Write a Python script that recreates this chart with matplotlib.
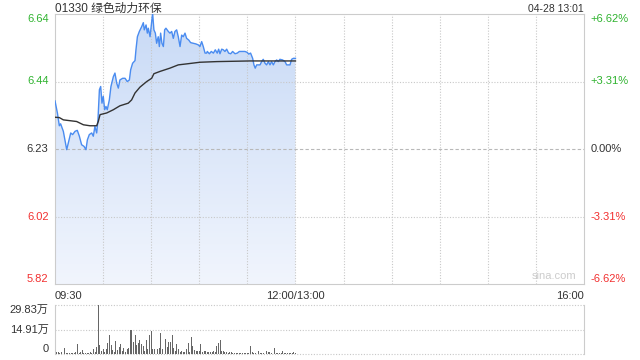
import matplotlib
matplotlib.use("Agg")
import matplotlib.pyplot as plt
import numpy as np
from matplotlib.colors import LinearSegmentedColormap
from matplotlib.patches import Polygon

plt.rcParams['font.family'] = ['Liberation Sans', 'Noto Sans CJK SC', 'DejaVu Sans']

title = "01330 绿色动力环保"
stamp = "04-28 13:01"
prev_close = 6.23
pct_range = 6.62

price_min = [0, 1.5, 2.7, 3.5, 5.2, 6.2, 7.3, 8.3, 9.8, 11.0, 12.5, 13.9, 15.2, 16.6, 18.1, 19.3,
             20.2, 21.4, 22.9, 23.9, 24.9, 26.0, 26.8, 27.7, 28.5, 29.3, 30.1, 31.0, 31.8, 32.6,
             33.9, 34.9, 36.4, 37.4, 38.5, 39.5, 40.5, 42.2, 43.7, 45.1, 46.4, 47.2, 48.4, 49.9,
             50.5, 51.4, 52.6, 54.1, 55.1, 55.7, 56.8, 57.6, 58.2, 59.3, 60.3, 60.9, 61.7, 62.6,
             63.4, 64.4, 65.1, 65.9, 66.7, 67.6, 68.4, 69.2, 70.7, 71.7, 72.8, 73.8, 74.8, 75.9,
             76.9, 78.0, 79.0, 80.0, 81.1, 82.1, 83.4, 84.6, 86.3, 87.9, 89.4, 90.4, 91.5, 92.5,
             93.6, 94.6, 95.0, 96.3, 97.5, 98.8, 100.0, 101.2, 102.1, 102.9, 104.0, 105.0, 106.0,
             107.1, 108.3, 109.6, 110.8, 112.3, 113.7, 115.0, 116.4, 118.5, 120.0, 120.8, 122.0,
             123.3, 124.1, 124.9, 125.8, 127.9, 128.9, 129.9, 131.0, 132.0, 133.1, 134.1, 135.1,
             136.2, 137.2, 138.3, 139.3, 140.3, 142.0, 143.5, 144.5, 145.7, 146.6, 147.6, 148.7, 150.0]
price = [6.377, 6.340, 6.301, 6.307, 6.284, 6.258, 6.228, 6.248, 6.279, 6.274, 6.284, 6.287, 6.269,
         6.243, 6.238, 6.228, 6.258, 6.274, 6.279, 6.269, 6.299, 6.279, 6.319, 6.411, 6.421, 6.370,
         6.391, 6.350, 6.360, 6.350, 6.380, 6.421, 6.451, 6.462, 6.431, 6.416, 6.441, 6.446, 6.446,
         6.436, 6.441, 6.472, 6.492, 6.500, 6.533, 6.573, 6.589, 6.604, 6.616, 6.594, 6.609, 6.584,
         6.599, 6.573, 6.619, 6.645, 6.594, 6.584, 6.553, 6.573, 6.543, 6.584, 6.553, 6.543, 6.594,
         6.599, 6.589, 6.584, 6.589, 6.568, 6.589, 6.594, 6.573, 6.543, 6.578, 6.573, 6.584, 6.568,
         6.563, 6.555, 6.553, 6.551, 6.548, 6.543, 6.558, 6.543, 6.523, 6.523, 6.528, 6.521, 6.528,
         6.523, 6.533, 6.523, 6.535, 6.521, 6.535, 6.533, 6.528, 6.535, 6.523, 6.521, 6.528, 6.521,
         6.523, 6.528, 6.528, 6.528, 6.525, 6.520, 6.523, 6.507, 6.487, 6.477, 6.487, 6.487, 6.497,
         6.504, 6.492, 6.487, 6.497, 6.487, 6.497, 6.487, 6.497, 6.502, 6.497, 6.504, 6.502, 6.497,
         6.487, 6.487, 6.487, 6.504, 6.507, 6.507]

avg_min = [0, 2.7, 5.2, 13.5, 15.6, 17.7, 21.8, 26.0, 27.0, 28.1, 32.2, 36.4, 40.5, 45.7, 47.8,
           49.9, 53.0, 57.2, 60.3, 61.7, 65.5, 71.7, 76.9, 82.1, 90.4, 100.8, 121.6, 150.0]
avg_price = [6.327, 6.326, 6.319, 6.314, 6.309, 6.304, 6.301, 6.301, 6.314, 6.335, 6.340, 6.350,
             6.362, 6.370, 6.380, 6.401, 6.419, 6.436, 6.446, 6.460, 6.467, 6.477, 6.487, 6.490,
             6.495, 6.497, 6.499, 6.499]

volume = [21.5, 1.0, 1.0, 0.6, 1.4, 0.6, 3.6, 0.6, 0.4, 0.6, 0.6, 0.4, 0.6, 1.0, 6.0, 0.6, 1.0, 2.4,
          0.6, 0.4, 0.6, 0.6, 1.0, 0.4, 3.0, 1.0, 4.0, 29.83, 5.4, 2.0, 3.0, 1.4, 3.0, 6.6, 11.5,
          5.4, 2.4, 1.4, 8.0, 2.6, 4.0, 6.0, 2.0, 3.6, 1.0, 3.0, 3.6, 14.5, 14.9, 7.4, 11.5, 5.4,
          7.0, 8.6, 6.0, 5.0, 2.0, 8.6, 3.0, 11.5, 13.9, 3.0, 3.0, 3.6, 3.0, 3.6, 12.5, 3.0, 5.4,
          9.0, 4.0, 7.4, 7.4, 11.5, 3.4, 2.0, 6.0, 3.0, 1.4, 1.6, 1.0, 1.4, 3.0, 7.0, 1.0, 10.4,
          4.6, 2.4, 1.6, 2.0, 1.6, 6.0, 1.4, 1.6, 2.0, 1.0, 1.4, 1.4, 1.0, 1.6, 1.4, 4.6, 6.6,
          8.4, 1.6, 1.8, 1.0, 1.4, 0.8, 1.0, 1.4, 0.8, 0.8, 0.6, 0.6, 0.6, 0.6, 0.6, 0.4, 0.6,
          0.6, 0.6, 4.6, 1.4, 0.4, 0.6, 0.4, 1.6, 0.6, 0.6, 0.4, 0.6, 1.6, 1.0, 1.0, 0.6, 0.4,
          3.4, 0.6, 0.6, 0.6, 0.4, 1.6, 0.6, 0.6, 0.4, 0.6, 0.6, 0.4, 1.2, 0.6]
vol_max = 29.83

time_labels = ["09:30", "12:00/13:00", "16:00"]
total_minutes = 330
break_minute = 150

GREEN = "#2fb32f"
RED = "#f23030"
GRID = "#c8c8c8"

fig = plt.figure(figsize=(6.4, 3.6), dpi=100)
ax = fig.add_axes([55/640, 76/360, 529/640, 270/360])
axv = fig.add_axes([55/640, 6/360, 529/640, 49/360])

ymin = prev_close * (1 - pct_range/100)
ymax = prev_close * (1 + pct_range/100)
ax.set_xlim(0, total_minutes)
ax.set_ylim(ymin, ymax)

# gradient fill under price
pm = np.array(price_min)
pp = np.array(price)
verts = np.column_stack([np.r_[pm[0], pm, pm[-1]], np.r_[ymin, pp, ymin]])
poly = Polygon(verts, closed=True, facecolor='none', edgecolor='none')
ax.add_patch(poly)
cmap = LinearSegmentedColormap.from_list("g", ["#f1f5fd", "#c8daf6"])
grad = np.linspace(0, 1, 256).reshape(-1, 1)
im = ax.imshow(grad, cmap=cmap, aspect='auto', origin='lower',
               extent=[pm[0], pm[-1], ymin, pp.max()], zorder=1)
im.set_clip_path(poly)

# grids
for m in range(30, total_minutes, 30):
    ax.axvline(m, color=GRID, lw=0.8, ls=(0, (1, 1.5)), zorder=2)
q = (ymax - ymin) / 4
for k in (1, 3):
    ax.axhline(ymin + k*q, color=GRID, lw=0.8, ls=(0, (1, 1.5)), zorder=2)
ax.axhline(prev_close, color="#b8b8b8", lw=0.8, ls=(0, (3, 2)), zorder=2)

ax.plot(pm, pp, color="#4a8cf0", lw=1.0, zorder=3)
ax.plot(avg_min, avg_price, color="#333333", lw=1.0, zorder=4)

for s in ax.spines.values():
    s.set_color("#cccccc")
    s.set_linewidth(0.8)
ax.set_xticks([])
ax.set_yticks([])

# left / right labels
levels = [ymax, ymin + 3*q, prev_close, ymin + q, ymin]
pct = [(lv/prev_close - 1)*100 for lv in levels]
for lv, pc in zip(levels, pct):
    col = GREEN if pc > 0.001 else (RED if pc < -0.001 else "#333333")
    va = 'top' if lv == ymax else ('bottom' if lv == ymin else 'center')
    ax.text(-4, lv, f"{lv:.2f}", ha='right', va=va, color=col, fontsize=8)
    txt = f"{pc:+.2f}%" if abs(pc) > 0.001 else "0.00%"
    ax.text(total_minutes + 4, lv, txt, ha='left', va=va, color=col, fontsize=8)

ax.text(0, 1 + 2.5/270, title, transform=ax.transAxes, ha='left', va='baseline', fontsize=8.5, color="#333333")
ax.text(1, 1 + 2.5/270, stamp, transform=ax.transAxes, ha='right', va='baseline', fontsize=7.5, color="#333333")
ax.text(0, -0.025, time_labels[0], transform=ax.transAxes, ha='left', va='top', fontsize=8, color="#333333")
ax.text(break_minute/total_minutes, -0.025, time_labels[1], transform=ax.transAxes, ha='center', va='top', fontsize=8, color="#333333")
ax.text(1, -0.025, time_labels[2], transform=ax.transAxes, ha='right', va='top', fontsize=8, color="#333333")
ax.text(0.985, 0.01, "sina.com", transform=ax.transAxes, ha='right', va='bottom', fontsize=8, color="#cccccc")

# volume
axv.set_xlim(0, total_minutes)
axv.set_ylim(0, vol_max)
axv.bar(np.arange(len(volume)), volume, width=0.6, color="#666666", zorder=3)
for lv in (vol_max, vol_max/2, 0):
    axv.axhline(lv, color=GRID, lw=0.8, ls=(0, (1, 1.5)), zorder=1, clip_on=False)
for side in ('top', 'bottom'):
    axv.spines[side].set_visible(False)
for side in ('left', 'right'):
    axv.spines[side].set_color("#cccccc")
    axv.spines[side].set_linewidth(0.8)
axv.set_xticks([])
axv.set_yticks([])
axv.text(-4, vol_max, f"{vol_max:.2f}万", ha='right', va='top', fontsize=8, color="#333333")
axv.text(-4, vol_max/2, f"{vol_max/2:.2f}万", ha='right', va='center', fontsize=8, color="#333333")
axv.text(-4, 0, "0", ha='right', va='bottom', fontsize=8, color="#333333")

fig.savefig("out.png", dpi=100)
